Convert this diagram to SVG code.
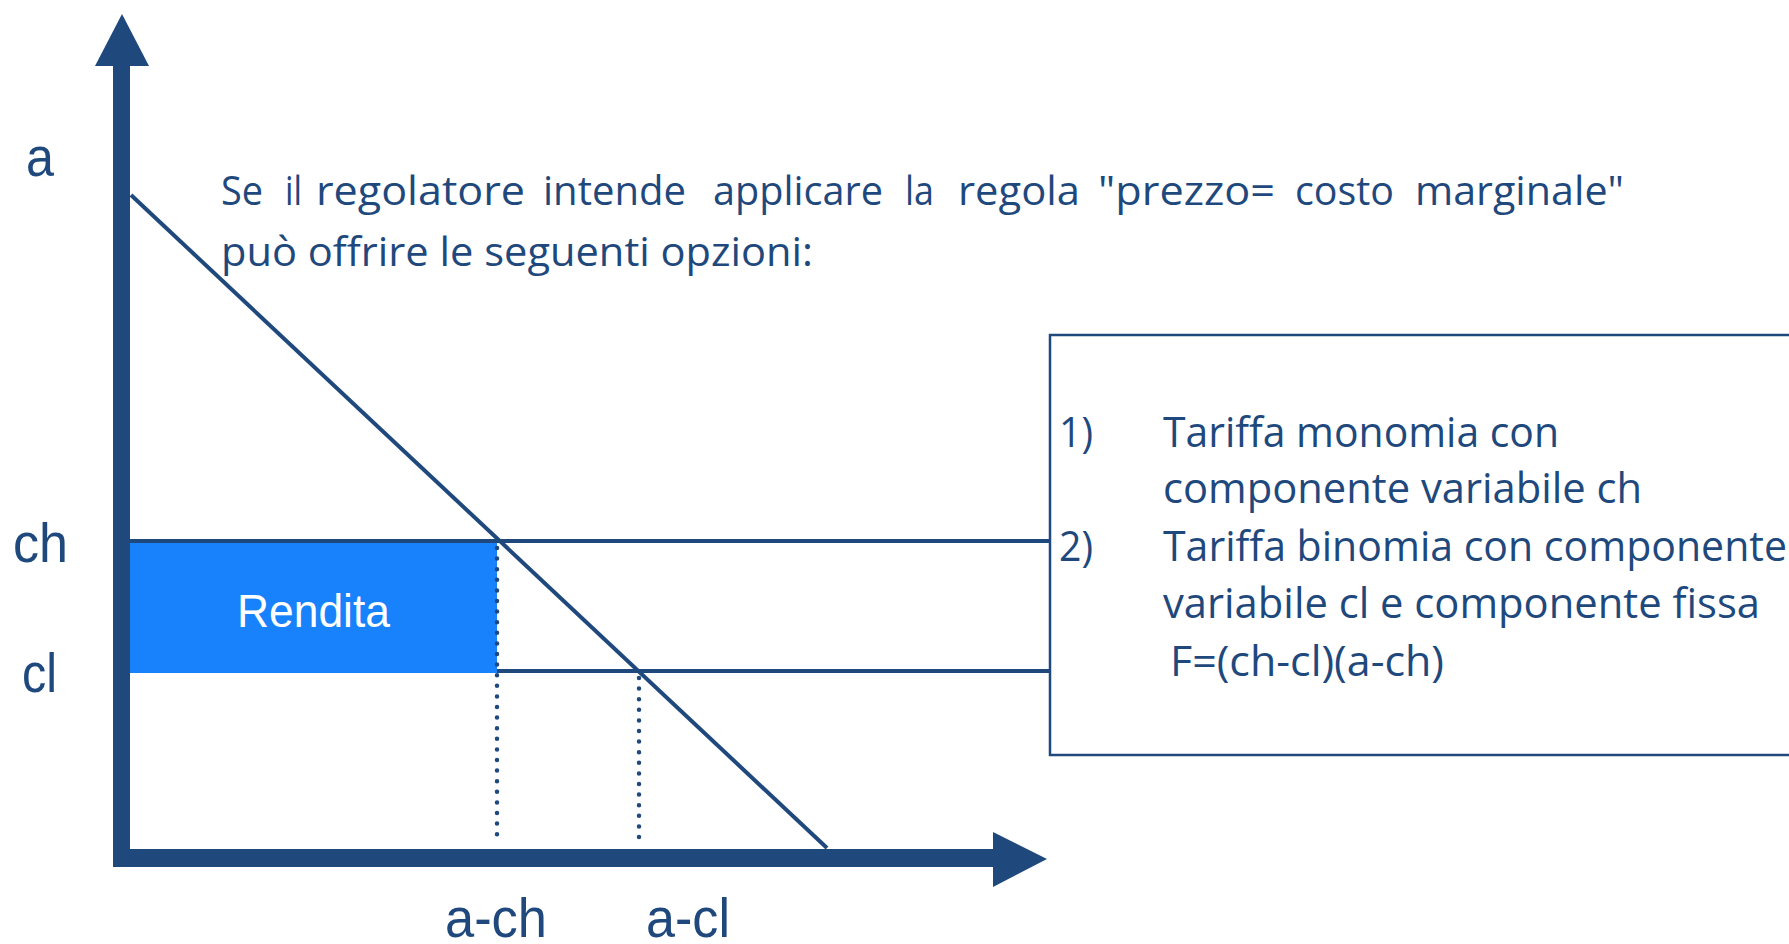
<svg xmlns="http://www.w3.org/2000/svg" width="1789" height="944" viewBox="0 0 1789 944">
  <style>
    .ink { fill: #1F497D; }
    .line { stroke: #1F497D; stroke-width: 4; fill: none; }
    .dots { stroke: #1F497D; stroke-width: 4.5; stroke-linecap: round; stroke-dasharray: 0 10.6; fill: none; }
    .axis-label { font-family: "Liberation Sans", Arial, sans-serif; font-size: 56px; fill: #1F497D; }
    .body { font-family: "Open Sans", "Noto Sans", sans-serif; font-size: 41px; fill: #1F497D; }
    .box-text { font-family: "Open Sans", "Noto Sans", sans-serif; font-size: 42px; fill: #1F497D; }
  </style>

  <rect width="1789" height="944" fill="#FFFFFF"/>

  <!-- Rent area between the two cost levels -->
  <g id="rendita">
    <rect x="129" y="542" width="368" height="131" fill="#1882FC"/>
    <text x="237" y="627" font-family="Liberation Sans, Arial, sans-serif" font-size="46" fill="#FFFFFF" textLength="153" lengthAdjust="spacingAndGlyphs">Rendita</text>
  </g>

  <!-- Cost levels, demand curve and projections -->
  <g id="connectors">
    <line id="ch-level" class="line" x1="129" y1="541" x2="1050" y2="541"/>
    <line id="cl-level" class="line" x1="497" y1="671" x2="1050" y2="671"/>
    <line id="demand" class="line" x1="131" y1="195" x2="827" y2="848"/>
    <line id="proj-ach" class="dots" x1="497" y1="548" x2="497" y2="843"/>
    <line id="proj-acl" class="dots" x1="639" y1="678" x2="639" y2="846"/>
  </g>

  <!-- Axes -->
  <g id="y-axis" class="ink">
    <rect x="113" y="64" width="17" height="802"/>
    <polygon points="122,14 95,66 149,66"/>
  </g>
  <g id="x-axis" class="ink">
    <rect x="113" y="849" width="882" height="18"/>
    <polygon points="993,832 1047,859 993,887"/>
  </g>

  <!-- Axis labels -->
  <g id="axis-labels">
    <text class="axis-label" x="26" y="176" textLength="28" lengthAdjust="spacingAndGlyphs">a</text>
    <text class="axis-label" x="13" y="562" textLength="55" lengthAdjust="spacingAndGlyphs">ch</text>
    <text class="axis-label" x="22" y="692" textLength="35" lengthAdjust="spacingAndGlyphs">cl</text>
    <text class="axis-label" x="445" y="937" textLength="102" lengthAdjust="spacingAndGlyphs">a-ch</text>
    <text class="axis-label" x="646" y="937" textLength="84" lengthAdjust="spacingAndGlyphs">a-cl</text>
  </g>

  <!-- Heading paragraph (justified first line) -->
  <g id="heading">
    <text class="body" x="221" y="205" textLength="42" lengthAdjust="spacingAndGlyphs">Se</text>
    <text class="body" x="285" y="205" textLength="17" lengthAdjust="spacingAndGlyphs">il</text>
    <text class="body" x="316" y="205" textLength="209" lengthAdjust="spacingAndGlyphs">regolatore</text>
    <text class="body" x="543" y="205" textLength="143" lengthAdjust="spacingAndGlyphs">intende</text>
    <text class="body" x="713" y="205" textLength="170" lengthAdjust="spacingAndGlyphs">applicare</text>
    <text class="body" x="905" y="205" textLength="29" lengthAdjust="spacingAndGlyphs">la</text>
    <text class="body" x="958" y="205" textLength="122" lengthAdjust="spacingAndGlyphs">regola</text>
    <text class="body" x="1098" y="205" textLength="177" lengthAdjust="spacingAndGlyphs">"prezzo=</text>
    <text class="body" x="1295" y="205" textLength="99" lengthAdjust="spacingAndGlyphs">costo</text>
    <text class="body" x="1415" y="205" textLength="209" lengthAdjust="spacingAndGlyphs">marginale"</text>
    <text class="body" x="221" y="266" textLength="592" lengthAdjust="spacingAndGlyphs">può offrire le seguenti opzioni:</text>
  </g>

  <!-- Options box -->
  <g id="options">
    <rect x="1050" y="335" width="800" height="420" fill="#FFFFFF" stroke="#1F497D" stroke-width="2.5"/>
    <text class="box-text" x="1059" y="447" textLength="34" lengthAdjust="spacingAndGlyphs">1)</text>
    <text class="box-text" x="1163" y="447" textLength="396" lengthAdjust="spacingAndGlyphs">Tariffa monomia con</text>
    <text class="box-text" x="1163" y="503" textLength="479" lengthAdjust="spacingAndGlyphs">componente variabile ch</text>
    <text class="box-text" x="1059" y="561" textLength="34" lengthAdjust="spacingAndGlyphs">2)</text>
    <text class="box-text" x="1163" y="561" textLength="624" lengthAdjust="spacingAndGlyphs">Tariffa binomia con componente</text>
    <text class="box-text" x="1163" y="618" textLength="597" lengthAdjust="spacingAndGlyphs">variabile cl e componente fissa</text>
    <text class="box-text" x="1170" y="676" textLength="274" lengthAdjust="spacingAndGlyphs">F=(ch-cl)(a-ch)</text>
  </g>
</svg>
